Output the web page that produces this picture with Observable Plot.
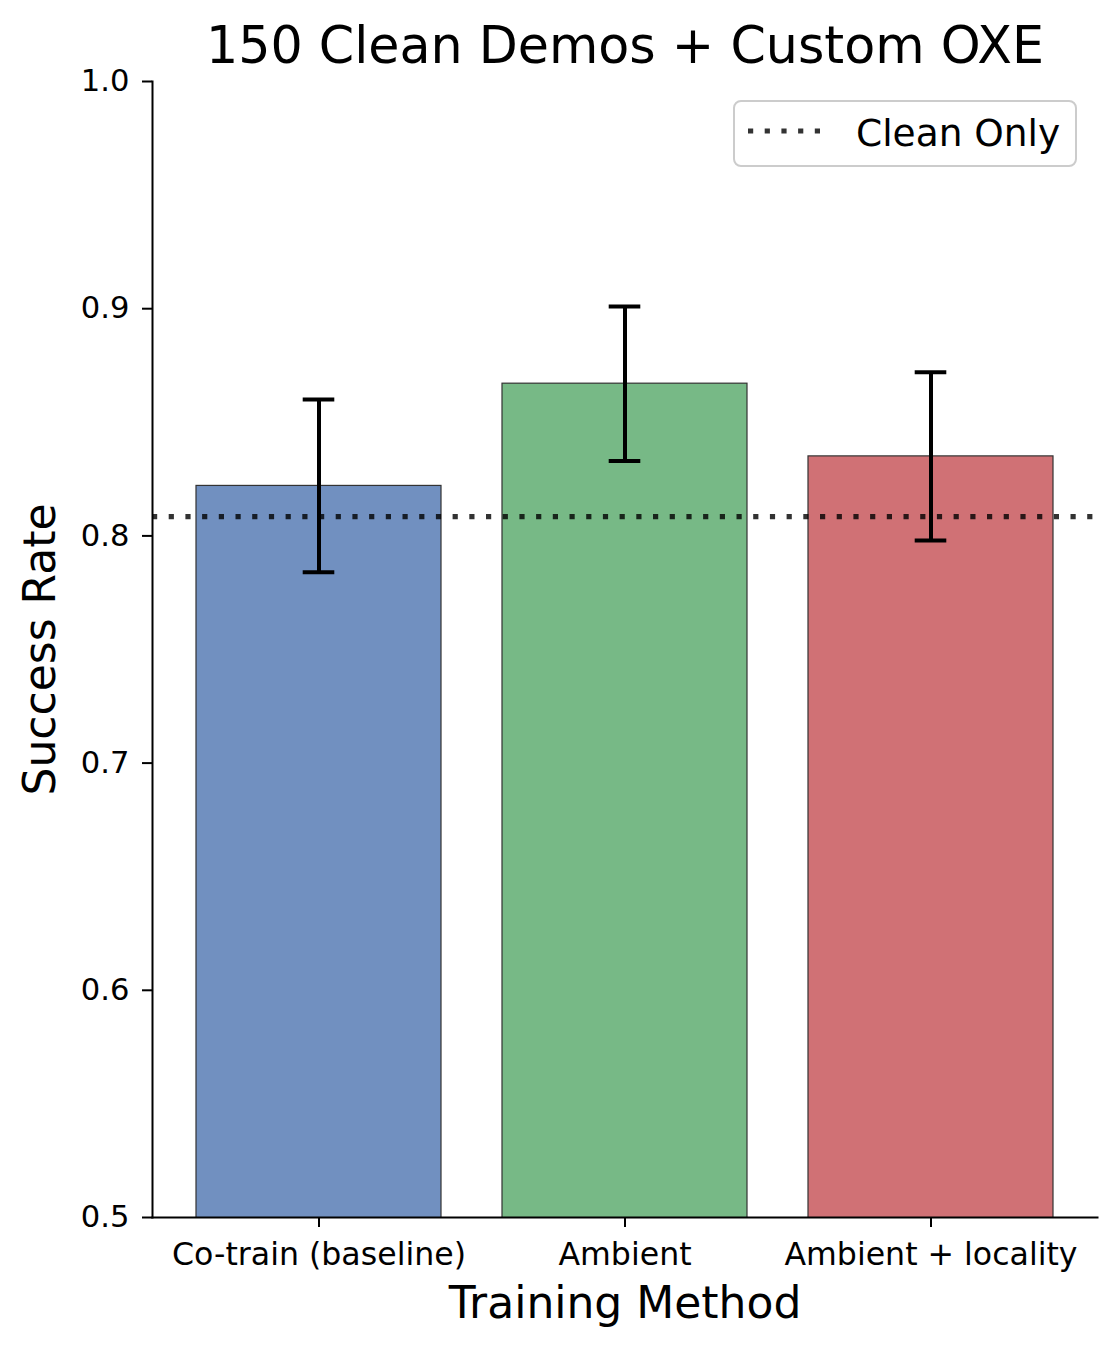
<!DOCTYPE html>
<html>
<head>
<meta charset="utf-8">
<script src="https://cdn.jsdelivr.net/npm/d3@7"></script>
<script src="https://cdn.jsdelivr.net/npm/@observablehq/plot@0.6"></script>
<style>
  html, body { margin: 0; padding: 0; background: #fff; }
  body { font-family: "DejaVu Sans", sans-serif; color: #000; }
  #wrap { position: relative; width: 1119px; height: 1350px; }
  #legend {
    position: absolute; left: 733px; top: 100px;
    width: 340px; height: 63px;
    border: 2px solid #cccccc; border-radius: 8px; background: rgba(255,255,255,0.8);
  }
  #legend svg { position: absolute; left: 0; top: 0; }
</style>
</head>
<body>
<div id="wrap"></div>
<script>
// ---- data ----
const methods = ["Co-train (baseline)", "Ambient", "Ambient + locality"];
const successRate = [0.822, 0.867, 0.835];
const errLow = [0.784, 0.833, 0.798];
const errHigh = [0.860, 0.901, 0.872];
const barColors = ["#7190C0", "#77B986", "#D07175"];
const cleanOnly = 0.8085;
const yTicks = [0.5, 0.6, 0.7, 0.8, 0.9, 1.0];
const titleText = "150 Clean Demos + Custom OXE";
const xLabel = "Training Method";
const yLabel = "Success Rate";
const legendLabel = "Clean Only";

const data = methods.map((m, i) => ({method: m, rate: successRate[i], lo: errLow[i], hi: errHigh[i]}));

const plot = Plot.plot({
  width: 1119,
  height: 1350,
  marginLeft: 152,
  marginRight: 22,
  marginTop: 81,
  marginBottom: 133,
  style: {fontFamily: "DejaVu Sans", background: "white", color: "black", overflow: "visible"},
  x: {domain: methods, paddingInner: 0.2, paddingOuter: 0.14, axis: null},
  y: {domain: [0.5, 1.0], axis: null},
  color: {domain: methods, range: barColors},
  marks: [
    Plot.barY(data, {x: "method", y: "rate", fill: "method", stroke: "#333", strokeWidth: 1.2, clip: true}),
    Plot.ruleY([cleanOnly], {stroke: "#000", strokeOpacity: 0.8, strokeWidth: 5.2, strokeDasharray: "5.2,11.5"}),
    Plot.ruleX(data, {x: "method", y1: "lo", y2: "hi", stroke: "black", strokeWidth: 4}),
    Plot.tickY(data, {x: "method", y: "lo", stroke: "black", strokeWidth: 4, insetLeft: 106.7, insetRight: 106.7}),
    Plot.tickY(data, {x: "method", y: "hi", stroke: "black", strokeWidth: 4, insetLeft: 106.7, insetRight: 106.7}),
    Plot.frame({anchor: "left", stroke: "black", strokeWidth: 2}),
    Plot.frame({anchor: "bottom", stroke: "black", strokeWidth: 2}),
    Plot.axisY({ticks: yTicks, tickFormat: ".1f", tickSize: 10, tickPadding: 13, fontSize: 30.6, strokeWidth: 2, label: null}),
    Plot.axisX({tickSize: 10, tickPadding: 15, fontSize: 31.6, strokeWidth: 2, label: null}),
    Plot.text([titleText], {frameAnchor: "top", textAnchor: "middle", lineAnchor: "bottom", dy: -18.5, fontSize: 50.7, fill: "black"}),
    Plot.text([xLabel], {frameAnchor: "bottom", textAnchor: "middle", lineAnchor: "bottom", dy: 100, fontSize: 44, fill: "black"}),
    Plot.text([yLabel], {frameAnchor: "left", textAnchor: "middle", lineAnchor: "bottom", rotate: -90, dx: -98, fontSize: 44, fill: "black"})
  ]
});

const wrap = document.getElementById("wrap");
wrap.appendChild(plot);

// legend (HTML overlay)
const legend = document.createElement("div");
legend.id = "legend";
legend.innerHTML = `<svg width="340" height="63">
  <line x1="13" x2="90" y1="29" y2="29" stroke="#000" stroke-opacity="0.8" stroke-width="5.2" stroke-dasharray="5.2,11.5"></line>
  <text x="121" y="44" font-family="DejaVu Sans" font-size="37.5" fill="#000">${legendLabel}</text>
</svg>`;
wrap.appendChild(legend);
</script>
</body>
</html>
